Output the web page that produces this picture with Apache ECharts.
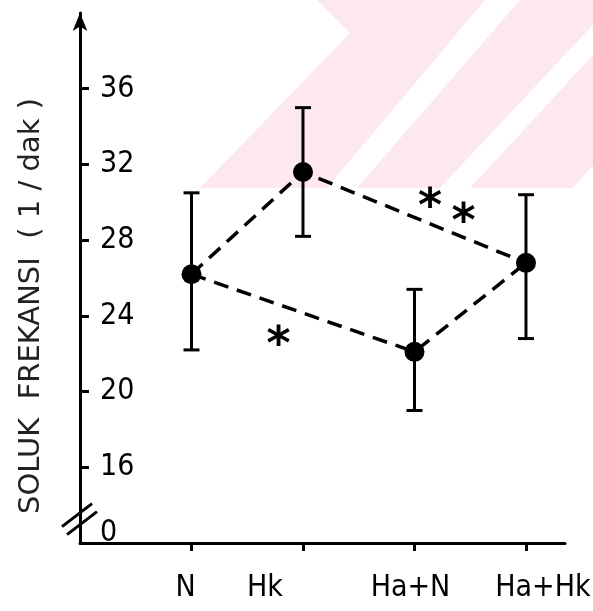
<!DOCTYPE html>
<html>
<head>
<meta charset="utf-8">
<script src="https://cdn.jsdelivr.net/npm/echarts@6/dist/echarts.min.js"></script>
<style>
  html, body { margin: 0; padding: 0; background: #fff; }
  #main { width: 593px; height: 611px; }
</style>
</head>
<body>
<div id="main"></div>
<script>
var categories = ['N', 'Hk', 'Ha+N', 'Ha+Hk'];
var means = [26.2, 31.6, 22.1, 26.8];
var upper = [30.5, 35.0, 25.4, 30.4];
var lower = [22.2, 28.2, 19.0, 22.8];
var yTickValues = [16, 20, 24, 28, 32, 36];
var yLabelValues = [12.5, 16, 20, 24, 28, 32, 36];
var yLabelTexts = ['0', '16', '20', '24', '28', '32', '36'];
// dashed paths between groups (indices into categories)
var pathTop = [0, 1, 3];
var pathBottom = [0, 2, 3];
// significance marks [x position, y value]
var stars = [[0.78, 23.0], [2.14, 30.3], [2.44, 29.5]];

var narrow = "'Liberation Sans Narrow', 'DejaVu Sans Condensed', sans-serif";
var font = 'DejaVu Sans';
// hand lettering sits a bit off the ticks in the original
var labelNudge = { 'N': -12, 'Hk': -76, 'Ha+N': -8, 'Ha+Hk': 34 };

var myChart = echarts.init(document.getElementById('main'));

function pts(idx) {
  return idx.map(function (i) { return [i, means[i]]; });
}

var rich = {};
categories.forEach(function (c, i) {
  var n = labelNudge[c];
  rich['c' + i] = {
    fontSize: 30, color: '#000', fontFamily: narrow,
    padding: n < 0 ? [0, -n, 0, 0] : [0, 0, 0, n]
  };
});

var option = {
  animation: false,
  grid: { left: 80, right: 28, top: 13, bottom: 68, outerBoundsMode: 'none' },
  xAxis: {
    type: 'value', min: -1, max: 3.35, interval: 1,
    axisLine: { show: true, onZero: false, lineStyle: { color: '#000', width: 3 } },
    axisTick: { show: true, length: 8, lineStyle: { color: '#000', width: 3 }, customValues: [0, 1, 2, 3] },
    axisLabel: {
      margin: 30, fontSize: 30, color: '#000', fontFamily: narrow,
      customValues: [0, 1, 2, 3], rich: rich,
      formatter: function (v) {
        var i = Math.round(v);
        return '{c' + i + '|' + categories[i] + '}';
      }
    },
    splitLine: { show: false }
  },
  yAxis: {
    type: 'value', min: 12, max: 40, interval: 4,
    name: 'SOLUK  FREKANSI  ( 1 / dak )',
    nameLocation: 'middle', nameGap: 34, nameRotate: 90,
    nameTextStyle: { fontSize: 29, color: '#222', fontFamily: font, padding: [0, 56, 0, 0] },
    axisLine: { show: true, onZero: false, lineStyle: { color: '#000', width: 3 },
      symbol: ['none', 'arrow'], symbolSize: [11, 18] },
    axisTick: { show: true, inside: true, length: 9, lineStyle: { color: '#000', width: 3 }, customValues: yTickValues },
    axisLabel: {
      inside: true, margin: 20, fontSize: 30, color: '#000', fontFamily: narrow,
      customValues: yLabelValues,
      formatter: function (v) { return yLabelTexts[yLabelValues.indexOf(v)]; }
    },
    splitLine: { show: false }
  },
  series: [
    {
      type: 'line', data: pts(pathTop), symbol: 'none', z: 3,
      lineStyle: { color: '#000', width: 3.5, type: [15, 9] }
    },
    {
      type: 'line', data: pts(pathBottom), symbol: 'none', z: 3,
      lineStyle: { color: '#000', width: 3.5, type: [15, 9] }
    },
    {
      type: 'custom', z: 4,
      data: categories.map(function (c, i) { return [i, upper[i], lower[i]]; }),
      renderItem: function (params, api) {
        var x = api.value(0);
        var t = api.coord([x, api.value(1)]);
        var b = api.coord([x, api.value(2)]);
        var w = 8;
        var st = { stroke: '#000', lineWidth: 3 };
        return {
          type: 'group',
          children: [
            { type: 'line', shape: { x1: t[0], y1: t[1], x2: b[0], y2: b[1] }, style: st },
            { type: 'line', shape: { x1: t[0] - w, y1: t[1], x2: t[0] + w, y2: t[1] }, style: st },
            { type: 'line', shape: { x1: b[0] - w, y1: b[1], x2: b[0] + w, y2: b[1] }, style: st }
          ]
        };
      }
    },
    {
      type: 'scatter', z: 5, symbolSize: 20,
      itemStyle: { color: '#000', opacity: 1 },
      data: means.map(function (v, i) { return [i, v]; })
    },
    {
      type: 'scatter', z: 5, symbolSize: 1,
      itemStyle: { color: 'rgba(0,0,0,0)', opacity: 1 },
      label: {
        show: true, position: 'inside', formatter: '*', fontSize: 46, fontWeight: 'bold',
        color: '#000', fontFamily: font, offset: [0, 12]
      },
      data: stars
    }
  ],
  graphic: [
    { type: 'polygon', z: -10, silent: true, shape: { points: [[317, 0], [485, 0], [327, 188], [200, 188], [350, 33]] }, style: { fill: '#fde9ed' } },
    { type: 'polygon', z: -10, silent: true, shape: { points: [[520, 0], [593, 0], [593, 25], [440, 188], [357, 188]] }, style: { fill: '#fde9ed' } },
    { type: 'polygon', z: -10, silent: true, shape: { points: [[593, 55], [593, 165], [573, 188], [470, 188]] }, style: { fill: '#fde9ed' } }
  ]
};
myChart.setOption(option);

// axis break marks on the y axis
var p = myChart.convertToPixel({ xAxisIndex: 0, yAxisIndex: 0 }, [-1, 13.5]);
var brk = { stroke: '#000', lineWidth: 3 };
myChart.setOption({
  graphic: option.graphic.concat([
    { type: 'line', z: 10, shape: { x1: p[0] - 18, y1: p[1] + 12, x2: p[0] + 12, y2: p[1] - 11 }, style: brk },
    { type: 'line', z: 10, shape: { x1: p[0] - 13, y1: p[1] + 20, x2: p[0] + 17, y2: p[1] - 3 }, style: brk }
  ])
});
</script>
</body>
</html>
